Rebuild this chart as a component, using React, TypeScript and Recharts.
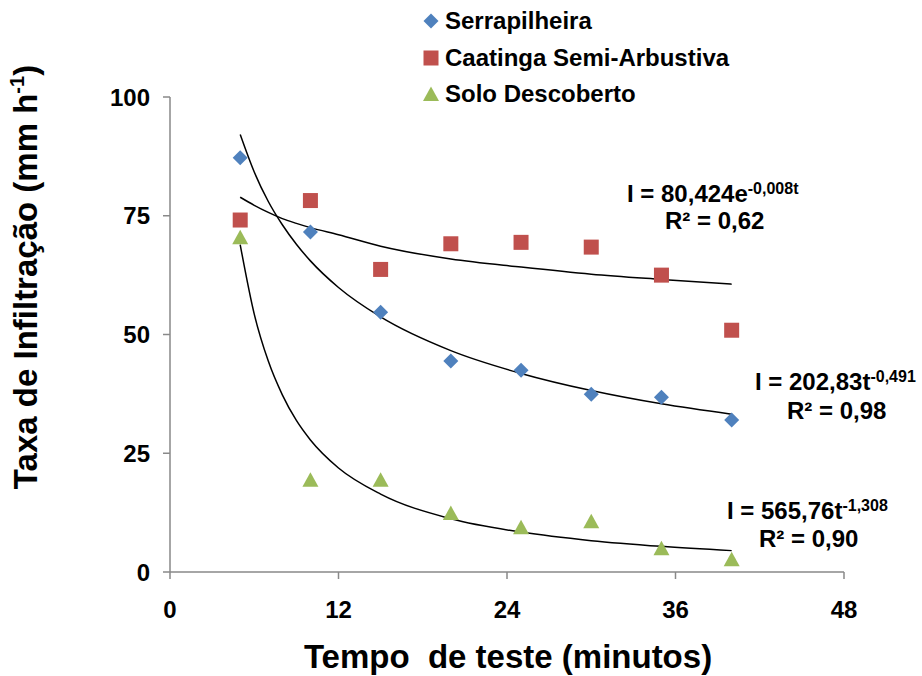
import React from "react";
import { ComposedChart, Scatter, Line, XAxis, YAxis, Label } from "recharts";

// measured points (minutes vs mm/h)
const tempos = [5, 10, 15, 20, 25, 30, 35, 40];
const serrapilheira = [87.2, 71.6, 54.7, 44.4, 42.5, 37.4, 36.8, 32.0];
const caatinga = [74.1, 78.2, 63.7, 69.1, 69.4, 68.4, 62.5, 50.9];
const soloDescoberto = [70.5, 19.4, 19.4, 12.4, 9.4, 10.7, 5.0, 2.7];

// trend curves
const tempoTendencia = [5, 6, 7, 8, 9, 10, 12, 15, 20, 25, 30, 35, 40];
const serrapilheiraTendencia = [92.1, 84.2, 78.0, 73.1, 69.0, 65.5, 59.9, 53.7, 46.6, 41.8, 38.2, 35.4, 33.2];
const caatingaTendencia = [78.9, 77.2, 75.7, 74.4, 73.4, 72.5, 71.0, 68.6, 65.9, 64.2, 62.7, 61.6, 60.6];
const soloTendencia = [68.9, 54.3, 44.4, 37.3, 31.9, 27.8, 21.9, 16.4, 11.2, 8.4, 6.6, 5.4, 4.5];

const xTicks = [0, 12, 24, 36, 48];
const yTicks = [0, 25, 50, 75, 100];

const nomes = ["Serrapilheira", "Caatinga Semi-Arbustiva", "Solo Descoberto"];
const cores = ["#4F81BD", "#C0504D", "#9BBB59"];

const FONT = "'Liberation Sans', Arial, sans-serif";
const AXIS = "#898989";

const pontos = (ys: number[]) => tempos.map((t, i) => ({ t, v: ys[i] }));
const curva = (ys: number[]) => tempoTendencia.map((t, i) => ({ t, v: ys[i] }));

const Diamond = (p: any) => (
  <polygon
    points={`${p.cx},${p.cy - 7.5} ${p.cx + 7.5},${p.cy} ${p.cx},${p.cy + 7.5} ${p.cx - 7.5},${p.cy}`}
    fill={cores[0]}
  />
);
const Square = (p: any) => (
  <rect x={p.cx - 7.5} y={p.cy - 7.5} width={15} height={15} fill={cores[1]} />
);
const Triangle = (p: any) => (
  <polygon
    points={`${p.cx},${p.cy - 7.5} ${p.cx + 8},${p.cy + 7} ${p.cx - 8},${p.cy + 7}`}
    fill={cores[2]}
  />
);

const legendY = [21, 57.5, 93.5];

const LegendMarker = ({ i }: { i: number }) => (
  <svg width={18} height={18} style={{ position: "absolute", left: 422, top: legendY[i] - 9 }}>
    {i === 0 && <polygon points="9,1.5 16.5,9 9,16.5 1.5,9" fill={cores[0]} />}
    {i === 1 && <rect x={1.5} y={1.5} width={15} height={15} fill={cores[1]} />}
    {i === 2 && <polygon points="9,1.5 17,16 1,16" fill={cores[2]} />}
  </svg>
);

const sup: React.CSSProperties = { fontSize: 16, position: "relative", top: -8 };

const txt = (left: number, cy: number): React.CSSProperties => ({
  position: "absolute",
  left,
  top: cy - 12,
  fontSize: 24,
  lineHeight: "24px",
  fontWeight: "bold",
  whiteSpace: "nowrap",
});

export default function App() {
  return (
    <div style={{ position: "absolute", left: 0, top: 0, width: 922, height: 676, background: "#fff", fontFamily: FONT }}>
      <ComposedChart width={922} height={676} margin={{ top: 97, right: 78, left: 0, bottom: 0 }}>
        <XAxis
          type="number"
          dataKey="t"
          domain={[0, 48]}
          ticks={xTicks}
          height={104}
          tickSize={7}
          tickMargin={22}
          axisLine={{ stroke: AXIS, strokeWidth: 1.5 }}
          tickLine={{ stroke: AXIS, strokeWidth: 1.5 }}
          tick={{ fill: "#000", fontSize: 24, fontWeight: "bold", fontFamily: FONT }}
        >
          <Label
            content={() => (
              <text x={508} y={668} textAnchor="middle" fontSize={33} fontWeight="bold" fontFamily={FONT} style={{ whiteSpace: "pre" }}>
                Tempo  de teste (minutos)
              </text>
            )}
          />
        </XAxis>
        <YAxis
          type="number"
          domain={[0, 100]}
          ticks={yTicks}
          width={170}
          tickSize={7}
          tickMargin={13}
          axisLine={{ stroke: AXIS, strokeWidth: 1.5 }}
          tickLine={{ stroke: AXIS, strokeWidth: 1.5 }}
          tick={{ fill: "#000", fontSize: 24, fontWeight: "bold", fontFamily: FONT }}
        >
          <Label
            content={() => (
              <text
                x={37}
                y={277}
                textAnchor="middle"
                transform="rotate(-90, 37, 277)"
                fontSize={33}
                fontWeight="bold"
                fontFamily={FONT}
              >
                Taxa de Infiltração (mm h
                <tspan fontSize={20} dy={-13}>-1</tspan>
                <tspan dy={13}>)</tspan>
              </text>
            )}
          />
        </YAxis>
        <Scatter name={nomes[0]} data={pontos(serrapilheira)} dataKey="v" shape={Diamond} isAnimationActive={false} />
        <Scatter name={nomes[1]} data={pontos(caatinga)} dataKey="v" shape={Square} isAnimationActive={false} />
        <Scatter name={nomes[2]} data={pontos(soloDescoberto)} dataKey="v" shape={Triangle} isAnimationActive={false} />
        <Line data={curva(serrapilheiraTendencia)} dataKey="v" type="monotone" stroke="#000" strokeWidth={1.5} dot={false} activeDot={false} legendType="none" isAnimationActive={false} />
        <Line data={curva(caatingaTendencia)} dataKey="v" type="monotone" stroke="#000" strokeWidth={1.5} dot={false} activeDot={false} legendType="none" isAnimationActive={false} />
        <Line data={curva(soloTendencia)} dataKey="v" type="monotone" stroke="#000" strokeWidth={1.5} dot={false} activeDot={false} legendType="none" isAnimationActive={false} />
      </ComposedChart>

      {nomes.map((n, i) => (
        <React.Fragment key={n}>
          <LegendMarker i={i} />
          <div style={txt(445, legendY[i])}>{n}</div>
        </React.Fragment>
      ))}

      <div style={txt(627, 194)}>
        I = 80,424e<span style={sup}>-0,008t</span>
      </div>
      <div style={txt(665, 221)}>R² = 0,62</div>

      <div style={txt(755, 382)}>
        I = 202,83t<span style={sup}>-0,491</span>
      </div>
      <div style={txt(787, 411)}>R² = 0,98</div>

      <div style={txt(727, 511)}>
        I = 565,76t<span style={sup}>-1,308</span>
      </div>
      <div style={txt(759, 539)}>R² = 0,90</div>
    </div>
  );
}
